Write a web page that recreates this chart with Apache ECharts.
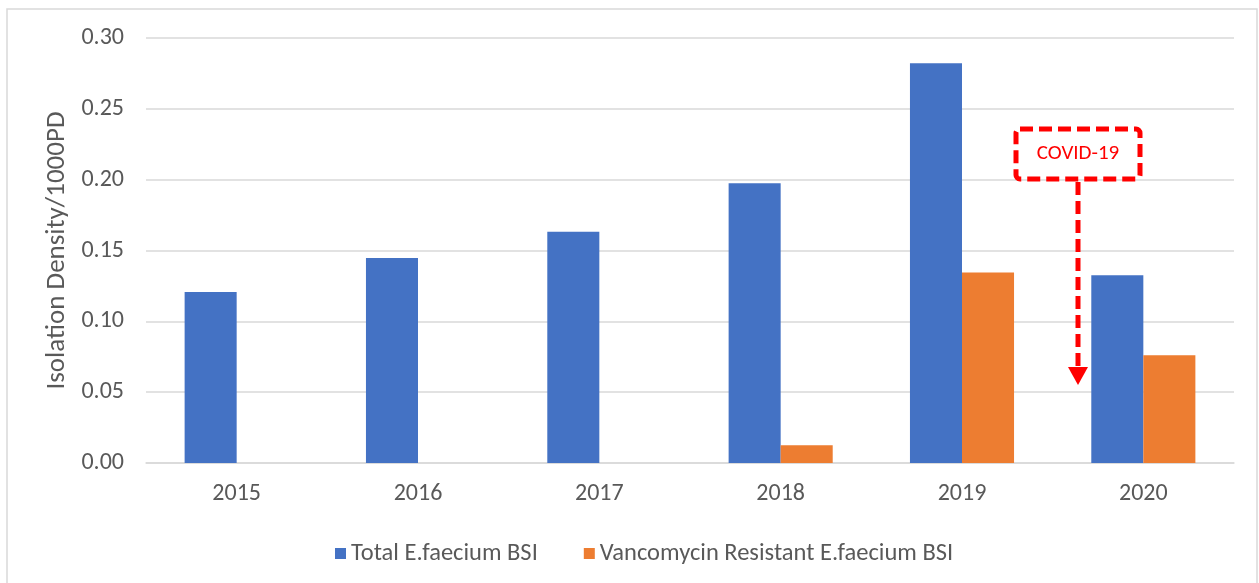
<!DOCTYPE html>
<html>
<head>
<meta charset="utf-8">
<title>E.faecium BSI isolation density</title>
<script src="https://cdn.jsdelivr.net/npm/echarts@6/dist/echarts.min.js"></script>
<style>
  html, body { margin: 0; padding: 0; background: #fff; }
  #chart { width: 1259px; height: 583px; }
</style>
</head>
<body>
<div id="chart"></div>
<script>
// values
const years = ['2015', '2016', '2017', '2018', '2019', '2020']
const totalBsi = [0.1207, 0.1447, 0.1633, 0.1975, 0.2822, 0.1326]
const vreBsi = [0, 0, 0, 0.0125, 0.1345, 0.0761]
const seriesNames = ['Total E.faecium BSI', 'Vancomycin Resistant E.faecium BSI']

const font = 'Calibri, Carlito, "Open Sans", sans-serif'
const textColor = '#595959'
const gridColor = '#d9d9d9'

const chart = echarts.init(document.getElementById('chart'))

const option = {
  backgroundColor: '#fff',
  animation: false,
  textStyle: { fontFamily: font },
  grid: { left: 146, right: 25, top: 38, bottom: 120 },
  legend: {
    data: seriesNames,
    top: 536,
    left: 330,
    itemWidth: 11,
    itemHeight: 11,
    itemGap: 46,
    icon: 'rect',
    textStyle: { color: textColor, fontSize: 24.5, fontFamily: font }
  },
  xAxis: {
    type: 'category',
    data: years,
    axisLine: { lineStyle: { color: gridColor, width: 1.5 } },
    axisTick: { show: false },
    axisLabel: { color: textColor, fontSize: 24, margin: 19, fontFamily: font }
  },
  yAxis: {
    type: 'value',
    min: 0,
    max: 0.3,
    interval: 0.05,
    name: 'Isolation Density/1000PD',
    nameLocation: 'middle',
    nameGap: 74,
    nameTextStyle: { color: textColor, fontSize: 27, fontFamily: font },
    axisLine: { show: false },
    axisTick: { show: false },
    axisLabel: {
      color: textColor,
      fontSize: 24,
      margin: 22,
      fontFamily: font,
      formatter: (v) => v.toFixed(2)
    },
    splitLine: { lineStyle: { color: gridColor, width: 1.5 } }
  },
  series: [
    {
      name: seriesNames[0],
      type: 'bar',
      data: totalBsi,
      barGap: '0%',
      barCategoryGap: '42.6%',
      itemStyle: { color: '#4472C4' }
    },
    {
      name: seriesNames[1],
      type: 'bar',
      data: vreBsi,
      itemStyle: { color: '#ED7D31' }
    }
  ],
  graphic: [
    // outer frame
    {
      type: 'rect',
      shape: { x: 7, y: 9, width: 1250, height: 590 },
      style: { fill: 'none', stroke: gridColor, lineWidth: 1.5 },
      silent: true,
      z: -10
    },
    // COVID-19 callout
    {
      type: 'rect',
      shape: { x: 1016, y: 129, width: 124, height: 50, r: 4 },
      style: { fill: '#fff', stroke: '#FF0000', lineWidth: 5, lineDash: [13, 6] },
      z: 100
    },
    {
      type: 'text',
      x: 1078,
      y: 154,
      style: {
        text: 'COVID-19',
        fill: '#FF0000',
        font: '21px ' + font,
        align: 'center',
        verticalAlign: 'middle'
      },
      z: 101
    },
    {
      type: 'line',
      shape: { x1: 1078, y1: 182, x2: 1078, y2: 368 },
      style: { stroke: '#FF0000', lineWidth: 5, lineDash: [13, 6] },
      z: 100
    },
    {
      type: 'polygon',
      shape: { points: [[1068, 367], [1088, 367], [1078, 385]] },
      style: { fill: '#FF0000' },
      z: 100
    }
  ]
}

chart.setOption(option)
</script>
</body>
</html>
